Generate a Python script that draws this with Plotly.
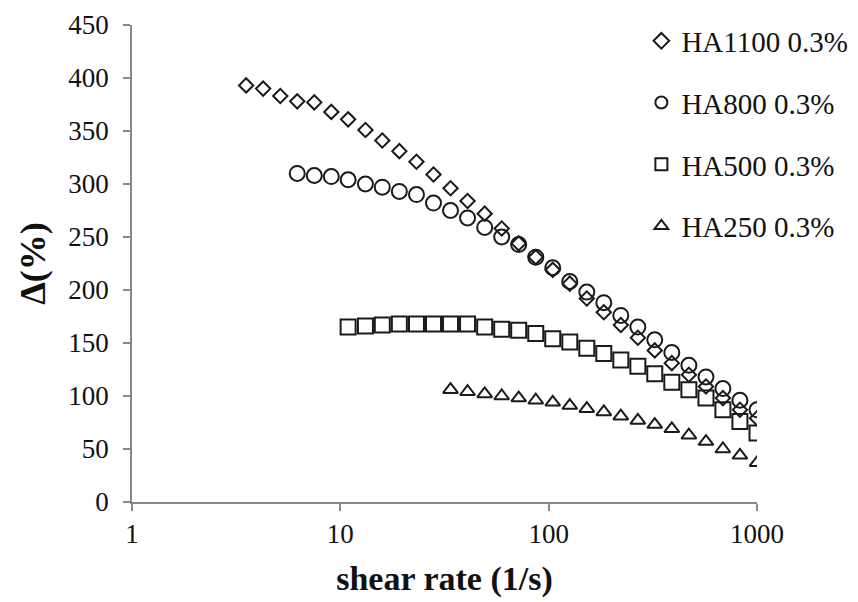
import plotly.graph_objects as go

# Shear rate grid (1/s)
shear_rate = [3.53, 4.26, 5.15, 6.21, 7.5, 9.05, 10.9, 13.2, 15.9, 19.2, 23.2,
              28.0, 33.8, 40.8, 49.3, 59.5, 71.8, 86.7, 104.6, 126.3, 152.4,
              183.9, 222, 268, 323, 390, 471, 569, 686, 828, 1000]

ha1100 = [393, 390, 383, 378, 377, 368, 361, 351, 341, 331, 321, 309, 296, 284,
          272, 258, 244, 231, 219, 206, 192, 179, 167, 155, 143, 131, 120, 109,
          98, 87, 79]
ha800 = [310, 308, 307, 304, 300, 297, 293, 290, 282, 275, 268, 259, 250, 243,
         231, 221, 208, 198, 188, 176, 165, 153, 141, 129, 118, 107, 96, 87]
ha500 = [165, 166, 167, 168, 168, 168, 168, 168, 165, 163, 162, 159, 154, 151,
         145, 140, 134, 128, 121, 113, 106, 98, 87, 76, 65]
ha250 = [106, 104, 102, 100, 98, 96, 94, 91, 88, 85, 81, 77, 73, 69, 63, 57,
         50, 44, 37]

names = ["HA1100 0.3%", "HA800 0.3%", "HA500 0.3%", "HA250 0.3%"]
series = [ha1100, ha800, ha500, ha250]
symbols = ["diamond-open", "circle-open", "square-open", "triangle-up-open"]
sizes = [11, 15, 15, 13]

FONT = "Liberation Serif"
fig = go.Figure()
for i, (nm, ys, sym, sz) in enumerate(zip(names, series, symbols, sizes)):
    xs = shear_rate[len(shear_rate) - len(ys):]
    fig.add_trace(go.Scatter(
        x=xs, y=ys, mode="markers", name=nm, legendgroup=nm,
        marker=dict(symbol=sym, size=sz, color="#1a1a1a",
                    line=dict(width=2, color="#1a1a1a")),
    ))

axis_col = "#888888"
fig.update_layout(
    width=850, height=594,
    margin=dict(l=124, r=101, t=17, b=100, autoexpand=False),
    paper_bgcolor="white", plot_bgcolor="white",
    font=dict(family=FONT, size=27, color="#111111"),
    showlegend=True,
    legend=dict(x=0.815, y=1.02, xanchor="left", yanchor="top",
                bgcolor="rgba(0,0,0,0)", tracegroupgap=21,
                font=dict(family=FONT, size=29, color="#111111"),
                itemsizing="constant", itemwidth=30),
    xaxis=dict(type="log", range=[0, 3], showgrid=False, zeroline=False,
               automargin=False,
               showline=True, linecolor=axis_col, linewidth=1.5,
               ticks="outside", tickcolor=axis_col, ticklen=7, tickwidth=1.5,
               tickvals=[1, 10, 100, 1000], ticktext=["1", "10", "100", "1000"],
               tickfont=dict(family=FONT, size=27), ticklabelstandoff=0,
               title=dict(text="<b>shear rate (1/s)</b>", standoff=18,
                          font=dict(family=FONT, size=34))),
    yaxis=dict(range=[0, 450], showgrid=False, zeroline=False,
               automargin=False,
               showline=True, linecolor=axis_col, linewidth=1.5,
               ticks="outside", tickcolor=axis_col, ticklen=7, tickwidth=1.5,
               dtick=50, tickfont=dict(family=FONT, size=27),
               ticklabelstandoff=9,
               title=dict(text="<b>Δ(%)</b>", standoff=12,
                          font=dict(family=FONT, size=36))),
)

fig.write_html("out.html")
